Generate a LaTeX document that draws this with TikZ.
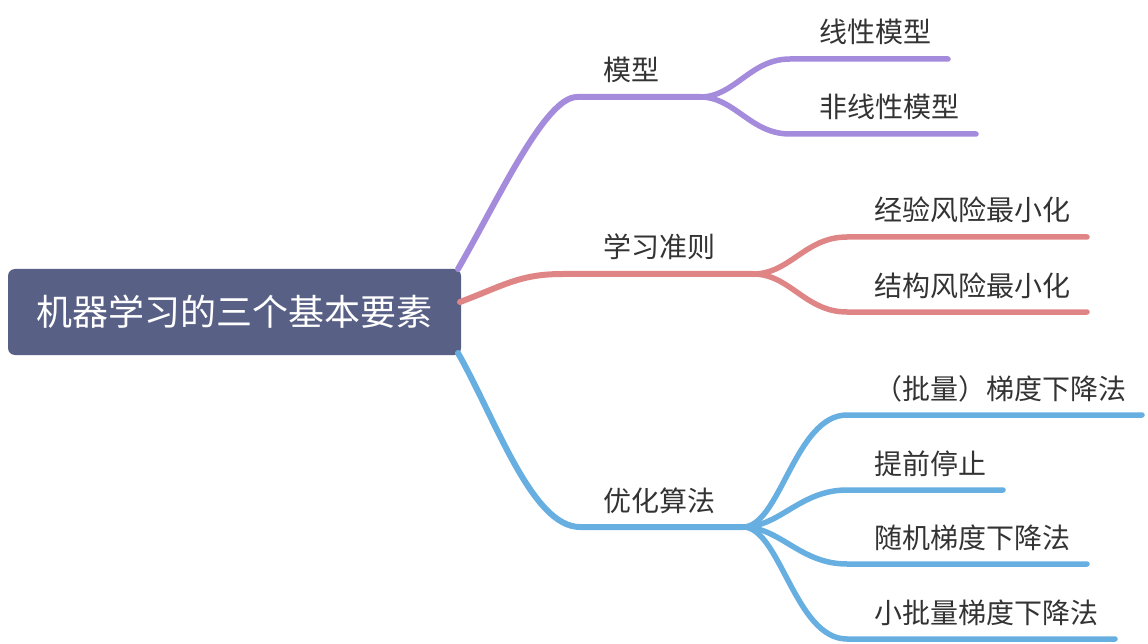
\documentclass[tikz,border=0pt]{standalone}
\usepackage{fontspec}
\newfontfamily\cjk{Noto Sans CJK SC}
\definecolor{cpur}{HTML}{A48BDC}
\definecolor{cred}{HTML}{E08585}
\definecolor{cblu}{HTML}{67AEE1}
\definecolor{croot}{HTML}{596086}
\definecolor{ctxt}{HTML}{333333}
\tikzset{
  rootbox/.style={fill=croot, rounded corners=7pt, minimum width=453pt, minimum height=86pt, inner sep=0pt, text=white, font=\cjk\fontsize{36}{40}\selectfont},
  lbl/.style={anchor=base west, inner sep=0pt, text=ctxt, font=\cjk\fontsize{28}{30}\selectfont},
  br/.style={line width=6pt, line cap=round},
  sub/.style={line width=5.5pt, line cap=round},
}
\begin{document}
\begin{tikzpicture}[x=1pt,y=-1pt]
\useasboundingbox (0,0) rectangle (1148,644);
% root
\node[rootbox] (root) at (234.5,312) {机器学习的三个基本要素};
% coordinates
\coordinate (p0) at (458,269);
\coordinate (p1) at (577,97);
\coordinate (pj) at (700,97);
\coordinate (pa0) at (790,59);  \coordinate (pa1) at (948,59);
\coordinate (pb0) at (790,134); \coordinate (pb1) at (976,134);
\coordinate (r0) at (460,302);
\coordinate (r1) at (563,274);
\coordinate (rj) at (753,274);
\coordinate (ra0) at (847,237); \coordinate (ra1) at (1087,237);
\coordinate (rb0) at (847,312); \coordinate (rb1) at (1087,312);
\coordinate (b0) at (458,353);
\coordinate (b1) at (580,527);
\coordinate (bj) at (743,527);
\coordinate (ba0) at (847,415); \coordinate (ba1) at (1142,415);
\coordinate (bb0) at (847,490); \coordinate (bb1) at (1003,490);
\coordinate (bc0) at (847,564); \coordinate (bc1) at (1087,564);
\coordinate (bd0) at (847,639); \coordinate (bd1) at (1115,639);
% purple branch
\draw[br,cpur] (p0) .. controls (498,200) and (545,97) .. (p1) -- (pj);
\draw[sub,cpur] (pj) .. controls (735,97) and (750,59) .. (pa0) -- (pa1);
\draw[sub,cpur] (pj) .. controls (735,97) and (750,134) .. (pb0) -- (pb1);
% red branch
\draw[br,cred] (r0) .. controls (505,285) and (520,274) .. (r1) -- (rj);
\draw[sub,cred] (rj) .. controls (790,274) and (805,237) .. (ra0) -- (ra1);
\draw[sub,cred] (rj) .. controls (790,274) and (805,312) .. (rb0) -- (rb1);
% blue branch
\draw[br,cblu] (b0) .. controls (496,420) and (532,527) .. (b1) -- (bj);
\draw[sub,cblu] (bj) .. controls (780,527) and (795,415) .. (ba0) -- (ba1);
\draw[sub,cblu] (bj) .. controls (780,527) and (800,490) .. (bb0) -- (bb1);
\draw[sub,cblu] (bj) .. controls (780,527) and (800,564) .. (bc0) -- (bc1);
\draw[sub,cblu] (bj) .. controls (780,527) and (795,639) .. (bd0) -- (bd1);
% labels
\node[lbl] (m) at (603,81) {模型};
\node[lbl] (ma) at (819,43) {线性模型};
\node[lbl] (mb) at (819,118) {非线性模型};
\node[lbl] (x) at (603,258) {学习准则};
\node[lbl] (xa) at (874,221) {经验风险最小化};
\node[lbl] (xb) at (874,296) {结构风险最小化};
\node[lbl] (o) at (603,511) {优化算法};
\node[lbl] (oa) at (874,399) {（批量）梯度下降法};
\node[lbl] (ob) at (874,474) {提前停止};
\node[lbl] (oc) at (874,548) {随机梯度下降法};
\node[lbl] (od) at (874,623) {小批量梯度下降法};
\end{tikzpicture}
\end{document}
